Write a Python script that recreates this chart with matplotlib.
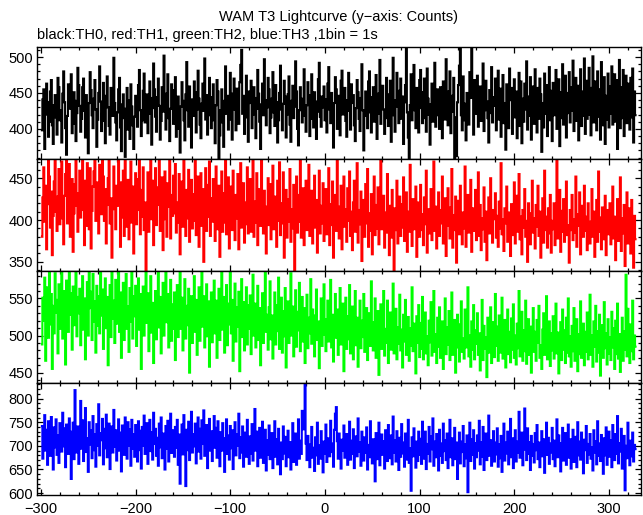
import matplotlib
matplotlib.use("Agg")
import matplotlib.pyplot as plt
import numpy as np
from matplotlib.ticker import MultipleLocator

plt.rcParams['font.family'] = ['Liberation Sans', 'DejaVu Sans']

# count rates per 1 s bin, first bin at t = -299 s
t_start = -299

th0 = [
    398, 441, 455, 372, 420, 463, 437, 389, 410, 452, 468, 405, 379, 433, 447, 416, 392, 471, 458, 412,
    426, 381, 449, 480, 437, 401, 364, 418, 462, 445, 428, 476, 394, 407, 451, 439, 383, 422, 485, 461,
    432, 396, 414, 458, 470, 425, 388, 447, 409, 366, 436, 479, 454, 419, 401, 442, 468, 427, 375, 413,
    450, 487, 438, 397, 421, 464, 411, 380, 446, 473, 430, 404, 392, 457, 443, 418, 499, 436, 409, 384,
    423, 455, 471, 402, 369, 434, 448, 415, 361, 428, 457, 399, 440, 386, 462, 431, 405, 372, 417, 446,
    438, 403, 461, 482, 426, 390, 412, 453, 477, 409, 435, 448, 394, 421, 466, 443, 378, 429, 491, 455,
    417, 396, 444, 470, 432, 385, 411, 458, 424, 502, 437, 399, 449, 476, 415, 383, 428, 462, 440, 407,
    454, 472, 389, 420, 445, 400, 367, 431, 465, 439, 412, 384, 448, 493, 426, 403, 459, 437, 374, 441,
    418, 466, 451, 395, 427, 481, 442, 406, 387, 435, 463, 425, 498, 413, 447, 392, 438, 471, 419, 401,
    444, 462, 412, 380, 433, 468, 452, 357, 391, 426, 455, 409, 375, 439, 487, 421, 446, 399, 432, 478,
    413, 385, 449, 470, 427, 398, 456, 441, 407, 465, 489, 510, 421, 446, 393, 437, 474, 416, 382, 452,
    436, 467, 401, 420, 458, 443, 387, 428, 482, 449, 410, 372, 434, 463, 419, 497, 440, 405, 430, 471,
    455, 394, 416, 442, 479, 423, 404, 461, 437, 381, 412, 450, 488, 427, 398, 435, 467, 445, 388, 420,
    448, 473, 406, 382, 439, 460, 415, 431, 494, 452, 400, 377, 426, 458, 442, 409, 437, 483, 418, 396,
    433, 465, 447, 390, 414, 476, 429, 402, 451, 438, 386, 424, 469, 492, 417, 403, 445, 430, 459, 412,
    441, 395, 463, 486, 427, 408, 450, 419, 374, 436, 472, 455, 400, 428, 446, 391, 467, 481, 420, 434,
    457, 411, 389, 440, 478, 425, 399, 462, 436, 447, 405, 383, 429, 468, 451, 414, 397, 443, 490, 426,
    370, 418, 452, 437, 401, 466, 480, 423, 395, 444, 458, 410, 432, 475, 386, 421, 449, 496, 407, 438,
    460, 427, 393, 415, 471, 448, 404, 435, 467, 382, 456, 499, 419, 396, 440, 478, 431, 408, 453, 470,
    414, 445, 379, 437, 461, 525, 423, 388, 352, 433, 476, 412, 448, 489, 426, 401, 457, 439, 395, 468,
    482, 429, 408, 451, 470, 415, 396, 484, 442, 420, 378, 434, 463, 410, 447, 492, 403, 431, 455, 419,
    400, 458, 443, 387, 466, 428, 413, 497, 439, 405, 452, 480, 394, 424, 446, 471, 350, 416, 362, 437,
    461, 488, 530, 419, 398, 473, 435, 412, 384, 450, 427, 406, 479, 443, 522, 456, 392, 468, 421, 441,
    474, 403, 430, 459, 411, 448, 491, 397, 426, 467, 438, 415, 381, 454, 422, 486, 409, 444, 432, 470,
    398, 425, 481, 413, 456, 389, 447, 475, 408, 436, 371, 462, 419, 401, 484, 440, 457, 393, 428, 469,
    416, 452, 387, 434, 478, 404, 466, 380, 442, 410, 463, 427, 494, 399, 445, 418, 472, 385, 431, 459,
    407, 483, 426, 395, 457, 414, 470, 448, 368, 436, 402, 477, 421, 461, 390, 429, 486, 412, 453, 383,
    464, 419, 437, 482, 400, 428, 469, 376, 451, 415, 490, 406, 433, 474, 388, 450, 422, 479, 409, 458,
    425, 495, 397, 446, 471, 411, 460, 384, 430, 483, 404, 452, 418, 498, 393, 467, 414, 441, 485, 420,
    391, 457, 501, 409, 466, 431, 398, 480, 417, 455, 385, 493, 428, 405, 472, 379, 446, 413, 477, 402,
    459, 421, 487, 406, 450, 476, 410, 468, 372, 433, 496, 401, 458, 415, 482, 390, 443, 474, 408, 463,
    427, 399, 471, 416, 484, 381, 452, 419,
]

th1 = [
    380, 427, 463, 398, 441, 365, 419, 472, 452, 391, 434, 358, 405, 446, 475, 410, 387, 428, 461, 395,
    438, 470, 402, 371, 429, 455, 478, 396, 414, 467, 380, 421, 449, 362, 408, 443, 473, 417, 386, 432,
    459, 403, 425, 476, 412, 370, 447, 393, 468, 420, 389, 462, 366, 411, 440, 458, 478, 399, 424, 445,
    384, 466, 431, 407, 480, 452, 399, 437, 372, 418, 450, 471, 396, 426, 355, 413, 464, 433, 389, 441,
    417, 474, 426, 368, 445, 403, 459, 381, 480, 414, 392, 448, 377, 429, 470, 397, 440, 360, 409, 456,
    395, 449, 412, 474, 383, 436, 404, 463, 388, 421, 338, 410, 457, 386, 433, 479, 401, 447, 370, 425,
    462, 394, 418, 439, 480, 387, 410, 451, 364, 401, 458, 432, 380, 444, 416, 475, 378, 430, 405, 453,
    408, 467, 385, 421, 397, 455, 359, 413, 446, 392, 478, 428, 381, 436, 402, 460, 374, 419, 448, 390,
    431, 399, 473, 382, 415, 452, 368, 407, 456, 393, 437, 350, 411, 462, 387, 442, 404, 470, 381, 426,
    398, 449, 420, 375, 464, 413, 389, 441, 356, 405, 458, 386, 432, 397, 477, 383, 418, 451, 366, 410,
    440, 388, 459, 415, 376, 430, 402, 455, 365, 417, 468, 391, 408, 444, 373, 421, 395, 463, 384, 427,
    449, 386, 405, 471, 380, 422, 397, 456, 370, 412, 437, 393, 478, 401, 384, 435, 410, 360, 416, 450,
    394, 443, 377, 414, 465, 389, 428, 406, 368, 447, 399, 469, 382, 420, 396, 457, 355, 409, 436, 379,
    425, 398, 461, 374, 413, 390, 442, 340, 403, 452, 385, 430, 398, 475, 379, 410, 438, 370, 423, 447,
    388, 412, 466, 381, 404, 435, 372, 409, 453, 391, 424, 361, 402, 459, 384, 417, 396, 444, 375, 411,
    437, 383, 401, 462, 370, 419, 394, 446, 355, 405, 430, 387, 472, 398, 378, 416, 441, 365, 404, 452,
    392, 413, 374, 438, 399, 458, 381, 410, 364, 421, 447, 386, 403, 468, 373, 412, 395, 434, 351, 401,
    424, 380, 443, 396, 461, 368, 408, 387, 431, 359, 400, 452, 382, 418, 390, 439, 371, 410, 473, 389,
    401, 429, 367, 409, 385, 455, 396, 358, 417, 379, 436, 400, 340, 414, 388, 447, 372, 406, 428, 381,
    419, 391, 451, 375, 402, 433, 362, 410, 386, 466, 398, 369, 425, 389, 411, 440, 356, 399, 421, 380,
    442, 388, 407, 370, 427, 395, 459, 361, 413, 384, 402, 437, 376, 398, 470, 387, 416, 366, 405, 433,
    381, 412, 396, 452, 372, 401, 426, 357, 393, 438, 399, 378, 415, 461, 367, 406, 388, 428, 349, 397,
    423, 383, 441, 400, 371, 409, 390, 464, 368, 404, 430, 385, 397, 448, 362, 414, 387, 407, 436, 376,
    398, 457, 381, 418, 364, 402, 389, 439, 374, 410, 352, 398, 427, 384, 450, 393, 373, 412, 401, 432,
    379, 405, 368, 422, 390, 468, 383, 401, 363, 414, 396, 440, 374, 389, 409, 357, 419, 382, 399, 445,
    372, 397, 429, 386, 455, 377, 404, 359, 412, 391, 437, 380, 399, 350, 420, 395, 371, 408, 447, 385,
    402, 366, 418, 392, 441, 381, 410, 355, 397, 426, 373, 459, 388, 404, 367, 414, 384, 430, 361, 399,
    389, 420, 370, 406, 474, 378, 398, 436, 362, 411, 386, 425, 374, 403, 446, 382, 394, 349, 412, 388,
    430, 376, 401, 385, 452, 368, 407, 393, 433, 359, 397, 417, 380, 441, 387, 404, 364, 420, 390, 372,
    398, 437, 380, 410, 356, 394, 424, 374, 458, 386, 403, 365, 415, 391, 377, 429, 358, 398, 412, 383,
    420, 371, 392, 440, 378, 404, 352, 388, 425, 375, 397, 451, 363, 402, 384, 418, 345, 391, 433, 372,
    396, 414, 360, 424, 381, 343, 405, 377,
]

th2 = [
    488, 551, 520, 578, 466, 537, 565, 497, 590, 515, 556, 455, 540, 503, 584, 531, 548, 476, 569, 509,
    542, 588, 496, 560, 522, 461, 574, 545, 505, 590, 528, 557, 481, 566, 514, 544, 586, 499, 552, 530,
    563, 487, 541, 580, 508, 550, 468, 524, 572, 500, 590, 537, 559, 494, 583, 519, 546, 477, 567, 513,
    553, 503, 590, 527, 562, 482, 543, 577, 510, 552, 460, 535, 568, 498, 589, 523, 547, 490, 575, 516,
    541, 590, 505, 558, 470, 532, 571, 494, 548, 583, 509, 539, 478, 564, 519, 588, 496, 553, 526, 567,
    486, 536, 577, 508, 556, 455, 527, 566, 500, 545, 590, 517, 557, 479, 534, 580, 504, 544, 463, 521,
    560, 495, 538, 585, 511, 552, 476, 529, 571, 500, 547, 590, 518, 556, 484, 535, 575, 493, 542, 509,
    558, 467, 523, 568, 498, 544, 587, 509, 551, 480, 530, 576, 496, 540, 514, 563, 450, 521, 553, 490,
    535, 580, 505, 548, 474, 526, 565, 493, 540, 590, 512, 553, 484, 530, 569, 499, 546, 458, 519, 558,
    491, 536, 574, 503, 547, 470, 522, 563, 494, 539, 586, 508, 552, 477, 527, 568, 487, 543, 515, 590,
    503, 548, 466, 525, 570, 492, 538, 512, 559, 452, 529, 576, 498, 545, 480, 521, 565, 488, 541, 509,
    554, 475, 523, 582, 500, 543, 484, 531, 567, 494, 537, 460, 518, 557, 490, 542, 590, 505, 528, 481,
    538, 573, 495, 527, 469, 516, 558, 488, 541, 506, 578, 482, 524, 551, 477, 533, 499, 564, 457, 513,
    546, 490, 525, 584, 500, 539, 472, 519, 561, 485, 532, 507, 571, 479, 522, 552, 492, 537, 463, 515,
    555, 483, 524, 503, 576, 489, 535, 510, 472, 527, 562, 494, 519, 456, 508, 550, 486, 530, 569, 501,
    479, 522, 547, 492, 514, 575, 484, 528, 465, 506, 556, 497, 535, 474, 518, 564, 488, 512, 543, 452,
    503, 551, 482, 526, 495, 568, 476, 513, 539, 468, 510, 560, 487, 524, 458, 505, 547, 483, 520, 498,
    556, 478, 512, 537, 467, 500, 530, 486, 573, 507, 480, 518, 550, 470, 506, 533, 447, 496, 542, 482,
    515, 560, 473, 509, 490, 547, 463, 502, 531, 481, 513, 570, 476, 499, 536, 468, 511, 489, 555, 480,
    508, 457, 528, 492, 548, 474, 503, 525, 466, 510, 486, 565, 479, 516, 497, 449, 526, 490, 541, 471,
    517, 482, 552, 468, 504, 531, 476, 499, 460, 520, 491, 545, 473, 509, 560, 478, 502, 463, 524, 485,
    538, 470, 498, 519, 455, 494, 550, 475, 511, 488, 533, 467, 505, 558, 474, 497, 521, 450, 484, 528,
    501, 465, 515, 546, 478, 496, 469, 535, 484, 510, 565, 472, 500, 458, 519, 481, 541, 468, 507, 489,
    530, 474, 503, 453, 487, 548, 467, 513, 482, 498, 444, 524, 477, 506, 538, 463, 494, 518, 471, 556,
    486, 512, 466, 527, 477, 501, 551, 469, 490, 521, 457, 499, 535, 475, 505, 464, 523, 481, 542, 470,
    500, 461, 516, 483, 560, 472, 495, 532, 466, 507, 479, 547, 462, 497, 522, 474, 512, 450, 489, 537,
    478, 505, 466, 521, 490, 540, 470, 487, 455, 508, 530, 474, 499, 553, 468, 492, 519, 459, 503, 480,
    526, 469, 496, 543, 476, 504, 449, 490, 518, 467, 535, 481, 507, 463, 524, 477, 550, 472, 499, 458,
    513, 479, 537, 466, 493, 522, 452, 502, 475, 546, 470, 491, 516, 460, 505, 478, 531, 468, 496, 555,
    474, 500, 458, 519, 485, 540, 465, 506, 477, 528, 446, 492, 514, 470, 545, 483, 503, 461, 522, 476,
    498, 467, 532, 484, 510, 455, 520, 475, 543, 469, 502, 451, 493, 524, 466, 506, 481, 582, 472, 536,
    489, 463, 515, 479, 547, 468, 500, 485,
]

th3 = [
    742, 673, 718, 765, 690, 734, 660, 752, 708, 679, 761, 726, 650, 739, 697, 756, 681, 722, 664, 748,
    715, 688, 770, 699, 737, 655, 745, 719, 683, 758, 730, 630, 702, 749, 672, 818, 713, 686, 741, 662,
    729, 795, 694, 754, 668, 738, 780, 687, 716, 645, 750, 703, 733, 674, 763, 691, 724, 656, 746, 700,
    788, 680, 727, 712, 757, 661, 736, 695, 766, 676, 720, 747, 651, 706, 741, 686, 776, 698, 733, 669,
    716, 756, 690, 728, 646, 743, 707, 681, 760, 721, 673, 750, 701, 735, 658, 755, 694, 725, 677, 744,
    711, 667, 752, 691, 732, 652, 740, 700, 764, 683, 722, 748, 662, 713, 755, 689, 729, 671, 770, 704,
    736, 679, 717, 658, 747, 697, 760, 674, 726, 709, 650, 742, 694, 753, 667, 719, 768, 685, 733, 702,
    677, 740, 696, 755, 660, 724, 620, 705, 745, 682, 765, 717, 615, 734, 691, 751, 670, 714, 772, 686,
    725, 699, 747, 663, 712, 760, 688, 736, 673, 754, 704, 775, 679, 723, 744, 653, 710, 757, 690, 731,
    668, 718, 763, 696, 738, 675, 752, 707, 657, 729, 690, 748, 716, 645, 703, 756, 683, 722, 671, 742,
    695, 733, 651, 713, 750, 680, 725, 700, 768, 674, 718, 686, 741, 656, 705, 728, 677, 755, 697, 662,
    720, 684, 746, 669, 709, 778, 690, 730, 657, 703, 738, 675, 716, 751, 664, 699, 734, 648, 712, 681,
    743, 672, 701, 727, 653, 692, 752, 677, 714, 661, 736, 694, 640, 707, 672, 741, 684, 719, 657, 698,
    732, 676, 708, 650, 691, 748, 666, 700, 726, 660, 694, 756, 673, 711, 683, 774, 735, 760, 832, 705,
    670, 721, 686, 655, 703, 740, 675, 696, 647, 718, 680, 749, 662, 701, 673, 731, 689, 644, 709, 683,
    745, 666, 698, 716, 678, 753, 687, 705, 656, 734, 768, 782, 710, 673, 726, 684, 652, 713, 690, 743,
    675, 704, 725, 660, 692, 751, 671, 711, 683, 735, 653, 699, 720, 678, 758, 688, 708, 658, 730, 697,
    669, 718, 685, 739, 650, 702, 676, 752, 693, 663, 714, 686, 625, 727, 672, 706, 749, 659, 695, 724,
    681, 710, 652, 733, 689, 668, 744, 700, 674, 722, 661, 762, 686, 712, 667, 731, 690, 649, 717, 677,
    746, 684, 707, 656, 726, 671, 699, 755, 664, 695, 605, 718, 678, 737, 688, 654, 709, 668, 730, 681,
    715, 662, 751, 690, 673, 730, 651, 704, 683, 740, 667, 720, 693, 758, 658, 709, 676, 725, 687, 648,
    734, 679, 705, 664, 747, 689, 712, 670, 726, 653, 700, 755, 676, 716, 659, 696, 738, 672, 707, 630,
    685, 728, 663, 709, 687, 742, 657, 703, 674, 722, 602, 692, 749, 668, 714, 681, 733, 652, 706, 676,
    722, 690, 753, 661, 708, 677, 740, 649, 699, 726, 670, 686, 764, 679, 712, 658, 695, 731, 667, 707,
    682, 737, 656, 703, 674, 721, 645, 693, 747, 669, 707, 684, 730, 661, 699, 757, 676, 716, 653, 696,
    733, 667, 709, 686, 772, 675, 701, 728, 659, 713, 779, 692, 670, 737, 683, 708, 649, 721, 679, 704,
    665, 727, 691, 744, 672, 707, 655, 696, 731, 678, 714, 643, 700, 749, 681, 717, 662, 705, 686, 738,
    672, 711, 657, 694, 756, 676, 722, 683, 646, 706, 738, 669, 699, 727, 660, 688, 745, 675, 714, 652,
    701, 734, 666, 692, 719, 655, 750, 680, 709, 671, 728, 687, 642, 713, 691, 742, 664, 704, 682, 725,
    673, 697, 648, 733, 686, 710, 661, 752, 679, 705, 668, 723, 690, 641, 716, 680, 739, 660, 700, 730,
    677, 712, 655, 744, 689, 670, 725, 683, 763, 663, 706, 688, 736, 652, 697, 721, 606, 700, 674, 749,
    689, 659, 711, 678, 728, 667, 702, 693,
]

series = [th0, th1, th2, th3]
colors = ['black', '#ff0000', '#00ff00', '#0000ff']
ylims = [(358, 514), (339, 473), (436, 587), (596, 833)]

fig, axes = plt.subplots(4, 1, sharex=True, figsize=(6.43, 5.15), dpi=100)
fig.subplots_adjust(left=0.0575, right=0.9969, top=0.9087, bottom=0.0388, hspace=0)

for ax, y, c, lim in zip(axes, series, colors, ylims):
    t = t_start + np.arange(len(y))
    ax.plot(t, y, color=c, lw=1.5, drawstyle='steps-mid', solid_joinstyle='miter')
    ax.set_ylim(*lim)
    ax.yaxis.set_major_locator(MultipleLocator(50))
    ax.yaxis.set_minor_locator(MultipleLocator(10))
    ax.xaxis.set_major_locator(MultipleLocator(100))
    ax.xaxis.set_minor_locator(MultipleLocator(20))
    ax.tick_params(which='both', direction='in', top=True, right=True,
                   labelsize=10.5, width=0.9, pad=3)
    ax.tick_params(which='major', length=4.5)
    ax.tick_params(which='minor', length=2.2)
    for s in ax.spines.values():
        s.set_linewidth(1.0)

axes[-1].set_xlim(-304.2, 333.8)
axes[-1].tick_params(axis='x', pad=5)

fig.text(0.527, 1 - 21 / 515, 'WAM T3 Lightcurve (y\u2212axis: Counts)',
         ha='center', va='baseline', fontsize=10.5)
fig.text(0.0575, 1 - 39 / 515, 'black:TH0, red:TH1, green:TH2, blue:TH3 ,1bin = 1s',
         ha='left', va='baseline', fontsize=10.5)

fig.savefig('out.png', dpi=100)
